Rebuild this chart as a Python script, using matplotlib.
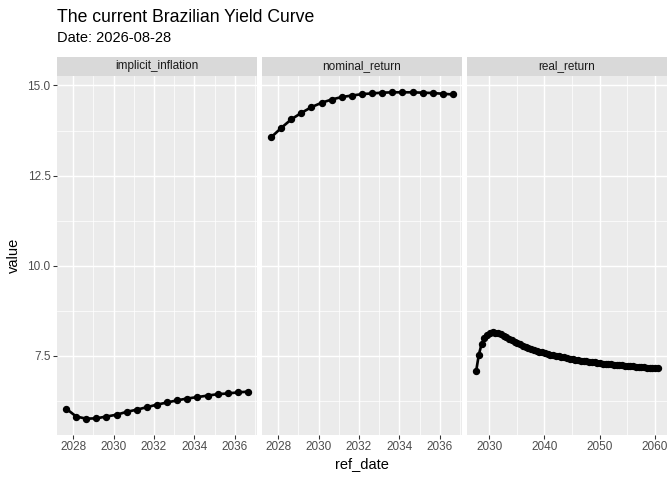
import numpy as np
import matplotlib
matplotlib.use("Agg")
import matplotlib.pyplot as plt
from matplotlib.ticker import FixedLocator, FuncFormatter

plt.rcParams['font.family'] = ['Liberation Sans', 'DejaVu Sans']

# short-end dates (decimal years) shared by implicit_inflation and nominal_return
short_dates = [2027.65, 2028.15, 2028.65, 2029.15, 2029.65, 2030.15, 2030.65,
               2031.15, 2031.65, 2032.15, 2032.65, 2033.15, 2033.65, 2034.15,
               2034.65, 2035.15, 2035.65, 2036.15, 2036.65]
implicit_inflation = [6.03, 5.81, 5.75, 5.76, 5.81, 5.86, 5.94, 6.00, 6.07, 6.14,
                      6.20, 6.26, 6.31, 6.35, 6.39, 6.43, 6.45, 6.48, 6.50]
nominal_return = [13.56, 13.82, 14.06, 14.24, 14.40, 14.52, 14.61, 14.68, 14.72,
                  14.76, 14.78, 14.80, 14.81, 14.81, 14.81, 14.80, 14.79, 14.77, 14.75]

real_dates = [2027.6, 2028.1, 2028.6, 2029.1, 2029.6, 2030.1, 2030.6, 2031.1, 2031.6,
              2032.1, 2032.6, 2033.1, 2033.6, 2034.1, 2034.6, 2035.1, 2035.6, 2036.1,
              2036.6, 2037.1, 2037.6, 2038.1, 2038.6, 2039.1, 2039.6, 2040.1, 2040.6,
              2041.1, 2041.6, 2042.1, 2042.6, 2043.1, 2043.6, 2044.1, 2044.6, 2045.1,
              2045.6, 2046.1, 2046.6, 2047.1, 2047.6, 2048.1, 2048.6, 2049.1, 2049.6,
              2050.1, 2050.6, 2051.1, 2051.6, 2052.1, 2052.6, 2053.1, 2053.6, 2054.1,
              2054.6, 2055.1, 2055.6, 2056.1, 2056.6, 2057.1, 2057.6, 2058.1, 2058.6,
              2059.1, 2059.6, 2060.1, 2060.6]
real_return = [7.06, 7.53, 7.82, 7.99, 8.08, 8.13, 8.15, 8.14, 8.12, 8.09, 8.05, 8.01,
               7.97, 7.93, 7.89, 7.85, 7.81, 7.78, 7.74, 7.71, 7.68, 7.66, 7.63, 7.61,
               7.59, 7.57, 7.55, 7.53, 7.51, 7.49, 7.48, 7.46, 7.45, 7.43, 7.41, 7.40,
               7.39, 7.37, 7.36, 7.35, 7.34, 7.33, 7.32, 7.31, 7.30, 7.29, 7.28, 7.27,
               7.26, 7.26, 7.25, 7.24, 7.23, 7.23, 7.22, 7.21, 7.21, 7.20, 7.19, 7.19,
               7.18, 7.18, 7.17, 7.17, 7.16, 7.16, 7.15]

panels = [
    ("implicit_inflation", short_dates, implicit_inflation, 2, 1),
    ("nominal_return", short_dates, nominal_return, 2, 1),
    ("real_return", real_dates, real_return, 10, 5),
]

W, H = 672, 480
fig = plt.figure(figsize=(7, 5), dpi=96)
fig.patch.set_facecolor("white")

all_y = implicit_inflation + nominal_return + real_return
ypad = (max(all_y) - min(all_y)) * 0.05
ylim = (min(all_y) - ypad, max(all_y) + ypad)

lefts = [57, 262, 467]
pw = 200
top, bottom = 76, 435
strip_h = 19

for i, (name, xs, ys, step, mstep) in enumerate(panels):
    ax = fig.add_axes([lefts[i] / W, 1 - bottom / H, pw / W, (bottom - top) / H])
    ax.set_facecolor("#EBEBEB")
    for s in ax.spines.values():
        s.set_visible(False)
    xpad = (max(xs) - min(xs)) * 0.05
    ax.set_xlim(min(xs) - xpad, max(xs) + xpad)
    ax.set_ylim(*ylim)

    lo = np.ceil((min(xs) - xpad) / step) * step
    majors = np.arange(lo, max(xs) + xpad, step)
    ax.xaxis.set_major_locator(FixedLocator(majors))
    ax.xaxis.set_minor_locator(FixedLocator(np.arange(lo - mstep, max(xs) + xpad, step)))
    ax.yaxis.set_major_locator(FixedLocator([7.5, 10.0, 12.5, 15.0]))
    ax.yaxis.set_minor_locator(FixedLocator([6.25, 8.75, 11.25, 13.75]))
    ax.xaxis.set_major_formatter(FuncFormatter(lambda v, p: "%d" % round(v)))
    ax.yaxis.set_major_formatter(FuncFormatter(lambda v, p: "%.1f" % v))

    ax.grid(which="major", color="white", linewidth=1.1)
    ax.grid(which="minor", color="white", linewidth=0.55)
    ax.set_axisbelow(True)
    ax.tick_params(which="major", length=2.75, width=0.8, color="#333333",
                   labelsize=8.8, labelcolor="#4D4D4D", pad=2)
    ax.tick_params(which="minor", length=0)
    if i > 0:
        ax.tick_params(axis="y", which="both", length=0, labelleft=False)

    ax.plot(xs, ys, color="black", linewidth=2.0, zorder=3)
    ax.plot(xs, ys, "o", color="black", markersize=4.5, zorder=4)

    sax = fig.add_axes([lefts[i] / W, 1 - top / H, pw / W, strip_h / H])
    sax.set_facecolor("#D9D9D9")
    sax.set_xticks([])
    sax.set_yticks([])
    for s in sax.spines.values():
        s.set_visible(False)
    sax.text(0.5, 0.5, name, ha="center", va="center", fontsize=8.8,
             color="#1A1A1A", transform=sax.transAxes)

fig.text(57 / W, 1 - 22 / H, "The current Brazilian Yield Curve", fontsize=13.2,
         ha="left", va="baseline")
fig.text(57 / W, 1 - 42 / H, "Date: 2026-08-28", fontsize=11, ha="left", va="baseline")
fig.text(14 / W, 1 - 255 / H, "value", fontsize=11, rotation=90, ha="center", va="center")
fig.text(362 / W, 1 - 464 / H, "ref_date", fontsize=11, ha="center", va="center")

fig.savefig("out.png", dpi=96)
